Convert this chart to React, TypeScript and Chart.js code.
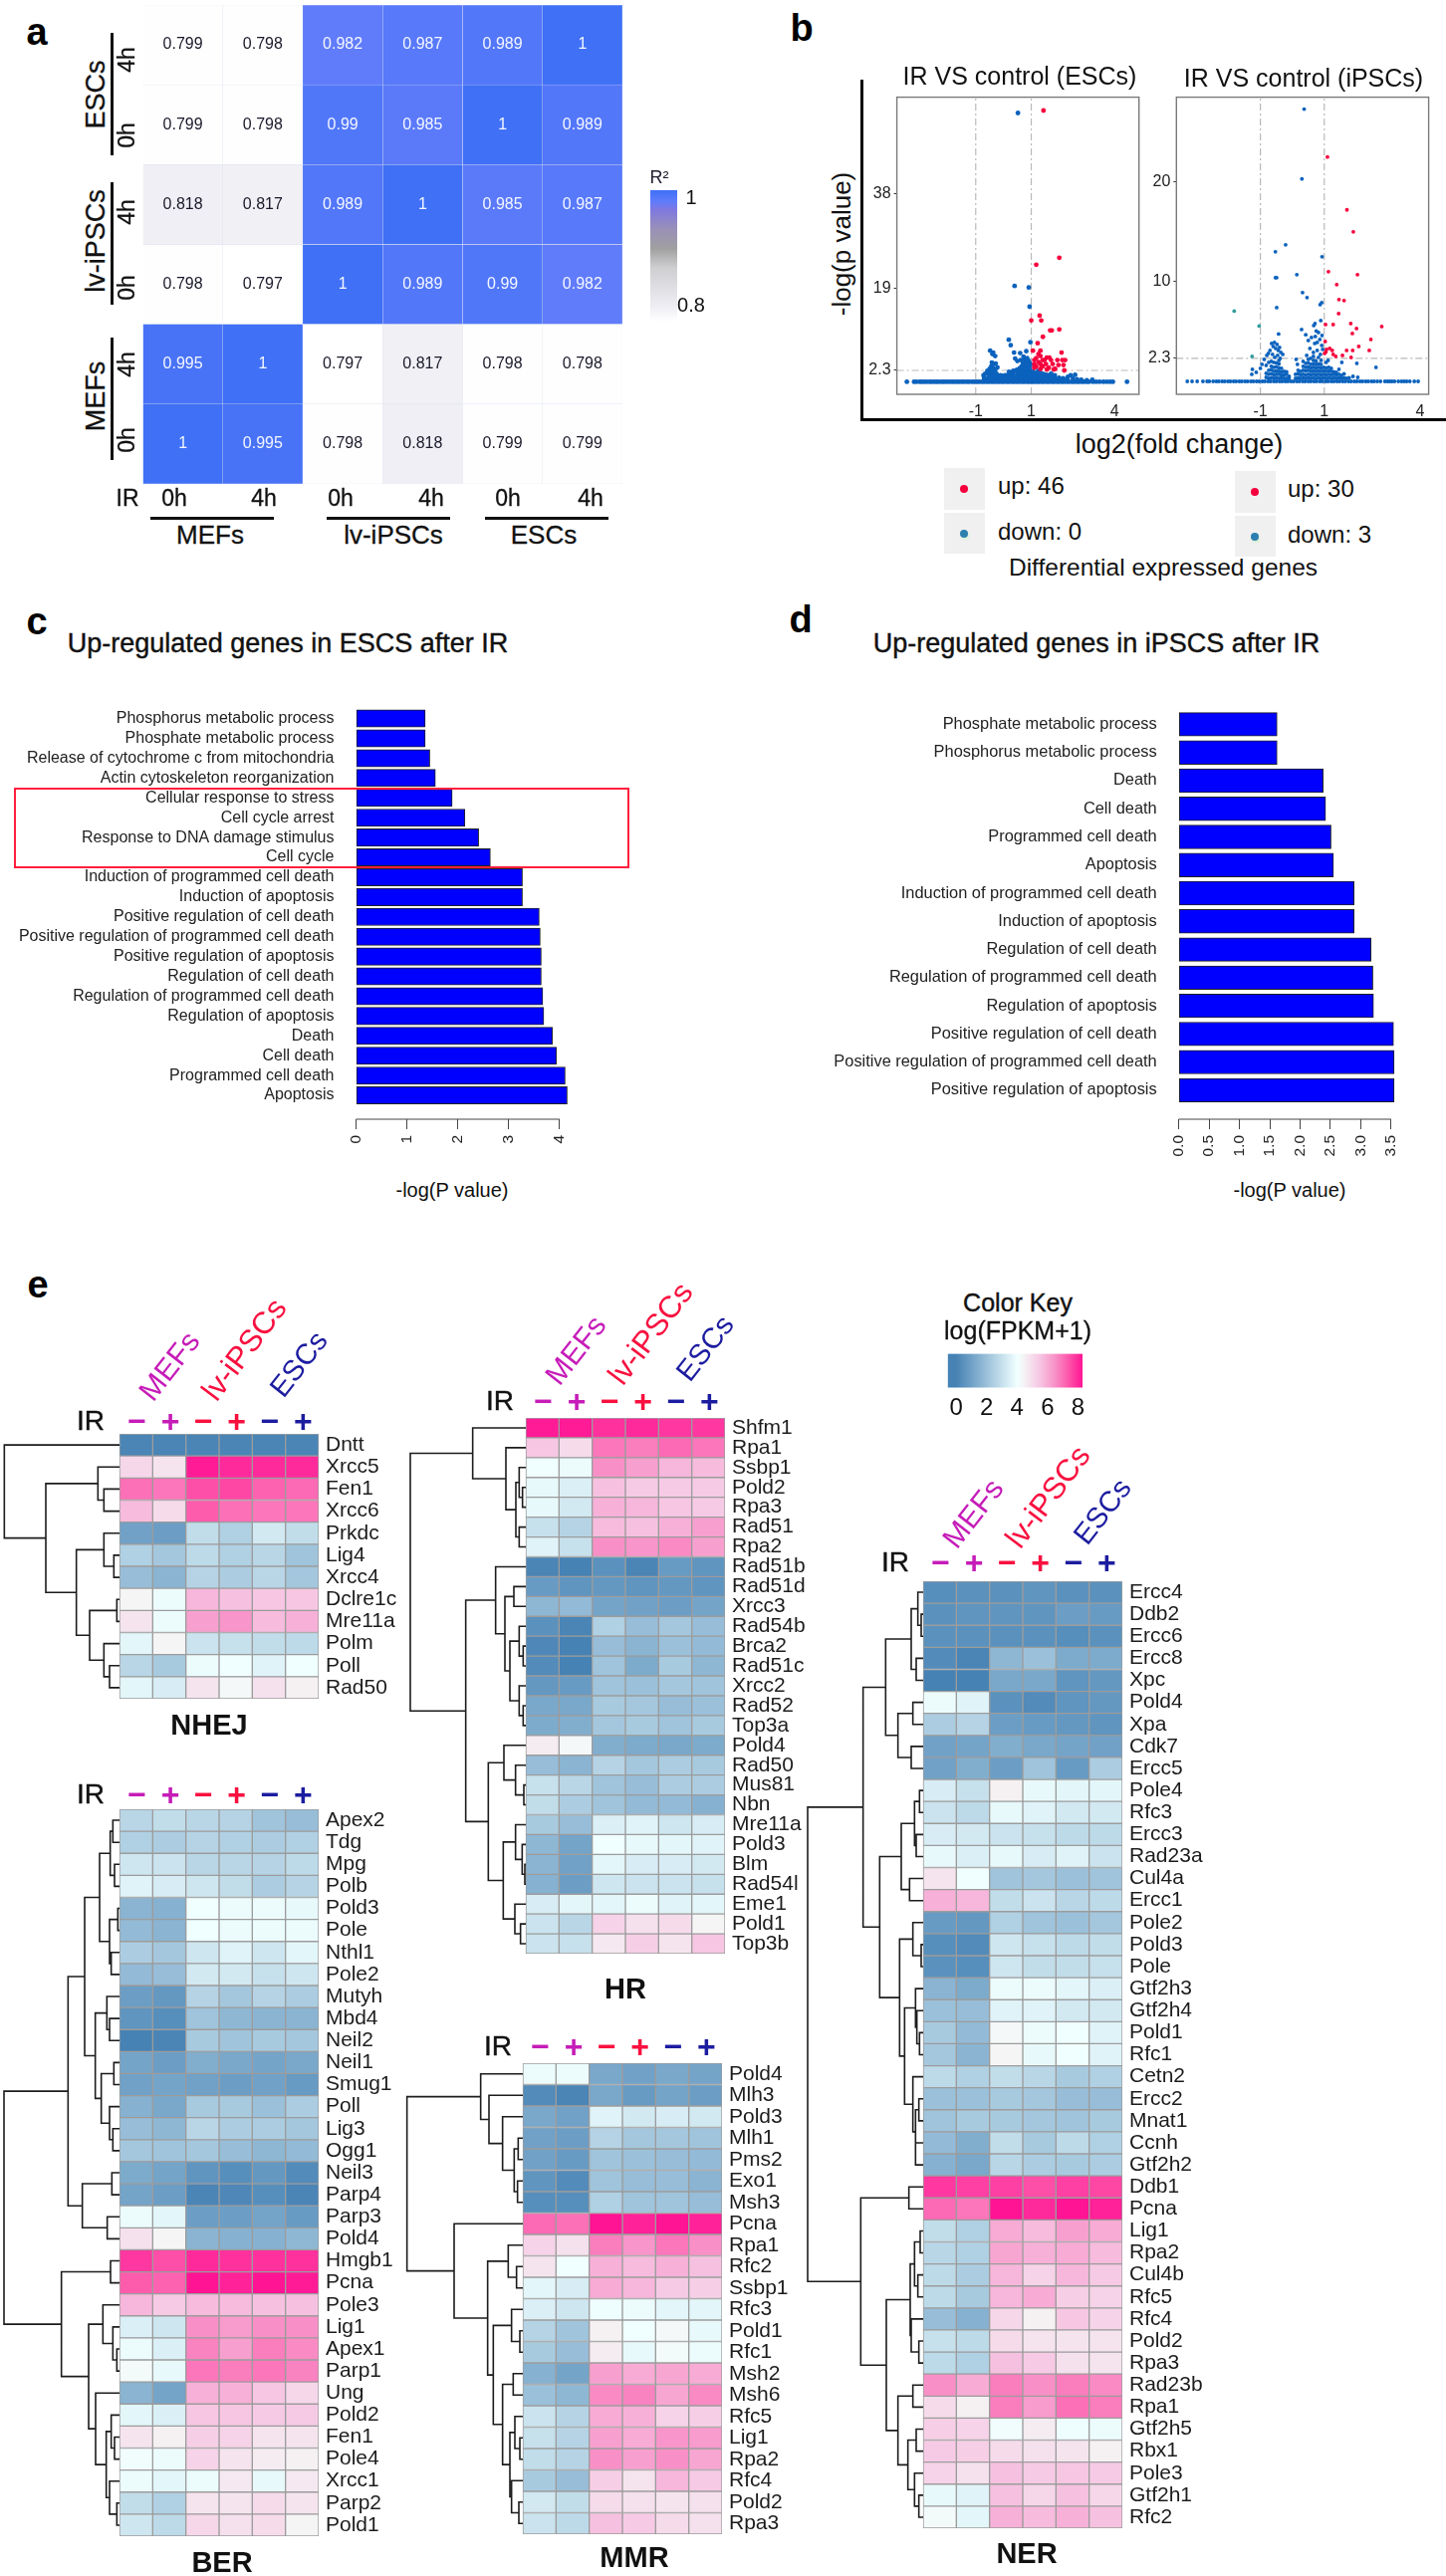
import React, { useEffect, useRef } from "react";
import { Chart, registerables } from "chart.js";
Chart.register(...registerables);
const FONT = "'Liberation Sans', Arial, sans-serif";
Chart.defaults.font.family = FONT;
Chart.defaults.color = "#222";

/* ---------- panel a ---------- */
const corrValues = [
  [0.799, 0.798, 0.982, 0.987, 0.989, 1],
  [0.799, 0.798, 0.99, 0.985, 1, 0.989],
  [0.818, 0.817, 0.989, 1, 0.985, 0.987],
  [0.798, 0.797, 1, 0.989, 0.99, 0.982],
  [0.995, 1, 0.797, 0.817, 0.798, 0.798],
  [1, 0.995, 0.798, 0.818, 0.799, 0.799],
];
const corrRows = ["ESCs 4h", "ESCs 0h", "lv-iPSCs 4h", "lv-iPSCs 0h", "MEFs 4h", "MEFs 0h"];
const corrStops: [number, string][] = [
  [0.797, "#ffffff"], [0.82, "#eeeef4"], [0.88, "#cfcfd2"], [0.91, "#a0a0a0"], [0.94, "#9a90b8"],
  [0.97, "#7f78e0"], [0.982, "#607cfb"], [1, "#3f70f6"],
];

/* ---------- panel b ---------- */
const escUp = [[1.44,54.9],[2.01,25.1],[1.18,23.7],[1.3,13.4],[1.36,12.4],[1,12.4],[2.01,10.6],[1.68,10.4],[1.74,10.4],[1.42,9.1],[1.23,7.8],[2.09,5.9],[1.33,6.3],[1.06,6.3],[1.26,5.6],[1.33,5.2],[1.18,4.8],[1.11,4.4],[1.41,4.4],[1.56,4.9],[1.65,4.9],[1.48,4.4],[1.71,4.4],[1.94,4.4],[2.12,4.4],[2.22,4.4],[1.26,4],[1.11,3.6],[1.33,3.6],[1.53,3.6],[1.77,3.6],[1.98,3.4],[2.16,3.4],[1.18,3.1],[1.41,3.1],[1.63,2.85],[1.86,2.6],[1.11,2.85],[1.33,2.6],[1.56,2.5],[1.81,2.5],[2.19,2.3]];
const escOther = [[.52,54.4],[.4,19.4],[.91,19.1],[.94,15.2],[.19,8.5],[.26,7.4],[.97,8],[-.48,6.3],[-.37,5.9],[-.3,5.2],[-.4,5.6],[.38,5.9],[.6,5.8],[.82,6.2],[.42,4.7],[.5,4.2],[.62,4.4],[.72,5.1],[.75,4.6],[.78,4.1],[.85,4.8],[.9,4.3],[.95,3.8],[.7,3.8],[.82,3.5],[.88,3.1],[.93,2.9],[.97,3.4],[-.42,3.9],[-.36,3.6],[-.28,3.7],[-.44,3.1],[-.5,2.6],[-.38,2.8],[-.3,2.4],[-.22,2.9],[-.58,2.2],[-.66,1.6],[-.72,1.3],[-.52,1.8],[-.46,1.5],[-.36,1.9],[-.26,1.5],[-.16,1.2],[.05,.8],[.12,1.3],[.2,.6],[.28,1.8],[.33,1.1],[.38,.5],[.45,2.3],[.5,1.5],[.55,.9],[.58,2.7],[.62,1.9],[.66,.7],[.7,2.4],[.73,1.4],[.77,3],[.8,2.1],[.84,1.1],[.87,2.5],[.9,1.7],[.94,.8],[.97,2.2],[1,1.3],[1.03,.6],[1.07,2],[1.1,1.1],[1.14,1.7],[1.18,.8],[1.22,1.4],[1.27,.5],[1.31,1.9],[1.36,1],[1.41,.6],[1.46,1.5],[1.5,.9],[1.56,.4],[1.6,1.2],[1.66,.7],[1.72,1.6],[1.78,.5],[1.84,.9],[1.92,.4],[2,.8],[2.1,.5],[2.2,.3],[2.32,1],[2.42,1.3],[2.5,.7],[2.58,1.4],[2.65,.5],[2.8,.4],[3,.3],[3.2,.4],[-.1,.5],[-.05,1.1],[.02,.3],[.1,.4],[.16,.9],[.24,.2],[.3,.5],[.36,.25],[.42,.8],[.48,.35],[.54,.5],[.6,.3],[.68,.5],[.74,.3],[.82,.6],[.88,.4],[.96,.3],[1.05,.25],[1.12,.4],[1.2,.3],[1.3,.25],[1.4,.3],[1.52,.2],[1.64,.3],[1.76,.25],[1.9,.2],[-.6,.5],[-.5,.7],[-.42,.4],[-.34,.9],[-.28,.5],[-.2,.7]];
const escDense = [[-.7,.7],[-.55,.8],[-.55,1.6],[-.4,.7],[-.4,1.5],[-.4,2.3],[-.25,.8],[-.25,1.6],[-.1,.7],[-.1,1.3],[.05,.7],[.05,1.3],[.2,.8],[.2,1.4],[.2,2],[.35,.7],[.35,1.5],[.35,2.2],[.5,.8],[.5,1.6],[.5,2.4],[.65,.7],[.65,1.5],[.65,2.3],[.65,3.1],[.8,.8],[.8,1.6],[.8,2.4],[.8,3.2],[.95,.7],[.95,1.5],[.95,2.3],[1.1,.8],[1.1,1.6],[1.25,.7],[1.25,1.5],[1.25,2.2],[1.4,.8],[1.4,1.6],[1.55,.7],[1.55,1.4],[1.7,.8],[1.7,1.5],[1.85,.7],[1.85,1.3],[2,.6],[2.15,.7],[2.3,.6]];
const escBaseX = [-3.48,-3.22,-3.14,-3.02,-2.94,-2.85,-2.76,-2.66,-2.58,-2.49,-2.4,-2.32,-2.22,-2.14,-2.05,-1.96,-1.86,-1.78,-1.68,-1.6,-1.5,-1.42,-1.32,-1.24,-1.14,-1.06,-.96,-.88,-.78,-.7,-.6,-.52,-.42,-.34,-.24,-.16,-.06,.02,.12,.2,.3,.38,.48,.56,.66,.74,.84,.92,1.02,1.1,1.2,1.28,1.38,1.46,1.56,1.64,1.74,1.82,1.92,2,2.1,2.18,2.28,2.36,2.46,2.54,2.64,2.72,2.82,2.9,3,3.08,3.22,3.34,3.46,3.6,3.72,3.84,3.94,4.45];
const ipscUp = [[1.1,22.5],[1.71,17.2],[1.91,15],[1.13,11],[2.04,10.7],[1.39,9.7],[1.46,8.2],[1.62,8.1],[1.45,6.8],[1.83,5.8],[1.04,5.7],[1.28,5.7],[2.01,5.3],[2.8,5.5],[1.88,4.8],[2.46,4.2],[1.03,4],[2.08,3.5],[1.07,3.2],[1.17,3.3],[1.25,3.1],[1.7,3.1],[1.89,3.1],[2.41,3.1],[1.01,2.8],[1.28,2.7],[1.57,2.6],[1.84,2.4],[1.36,2.5],[1.05,2.95]];
const ipscDown = [[-1.82,7.05],[-1.04,5.55],[-1.26,2.5]];
const ipscOther = [[.37,27.3],[.3,20.3],[-.21,13.7],[-.53,13],[.93,12.5],[.14,10.7],[-.53,10.4],[-.49,10.4],[.32,8.9],[.46,8.4],[.92,7.9],[.87,7.7],[-.49,7.4],[.89,6.1],[.71,5.8],[.67,5.6],[.29,5.2],[.75,5.05],[-.43,4.75],[.42,4.67],[-.65,3.8],[-.6,3.5],[-.56,3.9],[-.52,3.3],[-.48,3.7],[-.44,3.1],[-.4,3.4],[-.36,2.9],[-.7,3.1],[-.75,2.8],[-.8,2.6],[-.62,2.7],[-.55,2.4],[-.46,2.6],[-.38,2.3],[-.3,2.7],[-.88,2.2],[-.95,1.7],[-1,1.3],[-1.13,.9],[-1.25,1.2],[-1.27,.7],[-.82,1.6],[-.74,1.9],[-.66,2],[.55,3.3],[.57,2.3],[.66,2.9],[.7,3.8],[.78,3.1],[.86,4.2],[.88,2.7],[.92,3.6],[.5,4.1],[.6,4.4],[.72,4.5],[.82,4.9],[.78,3.9],[.93,4.6],[.95,3.2],[1.12,2.1],[2.02,1.8],[2.62,1.4],[1.55,1.9],[.12,2.2],[.16,1.7],[.45,2.6],[.34,2]];
const ipscDense = [[-.82,.4],[-.82,.8],[-.74,.3],[-.74,.7],[-.74,1.1],[-.66,.35],[-.66,.75],[-.66,1.15],[-.66,1.5],[-.58,.3],[-.58,.65],[-.58,1],[-.58,1.4],[-.58,1.9],[-.5,.35],[-.5,.7],[-.5,1.05],[-.5,1.45],[-.5,1.85],[-.42,.3],[-.42,.7],[-.42,1],[-.42,1.35],[-.42,1.75],[-.42,2.1],[-.34,.35],[-.34,.6],[-.34,.95],[-.34,1.3],[-.26,.3],[-.26,.65],[-.26,1],[-.18,.3],[-.18,.7],[-.18,.95],[-.1,.3],[-.1,.5],[.1,.3],[.1,.7],[.18,.35],[.18,.75],[.18,1.1],[.26,.3],[.26,.65],[.26,1],[.34,.35],[.34,.7],[.34,1.1],[.34,1.5],[.42,.3],[.42,.65],[.42,1.05],[.42,1.4],[.42,1.8],[.5,.35],[.5,.7],[.5,1.1],[.5,1.45],[.5,1.85],[.5,2.2],[.58,.3],[.58,.65],[.58,1],[.58,1.35],[.58,1.7],[.66,.35],[.66,.7],[.66,1.05],[.66,1.4],[.66,1.75],[.66,2.1],[.66,2.5],[.74,.3],[.74,.65],[.74,1],[.74,1.35],[.74,1.7],[.74,2.05],[.82,.35],[.82,.7],[.82,1.05],[.82,1.4],[.82,1.75],[.82,2.4],[.9,.3],[.9,.65],[.9,1],[.9,1.35],[.9,1.7],[.9,2.1],[.98,.35],[.98,.7],[.98,1.05],[.98,1.4],[1.06,.3],[1.06,.65],[1.06,1],[1.06,1.35],[1.06,1.9],[1.14,.35],[1.14,.7],[1.14,1.05],[1.14,1.4],[1.22,.3],[1.22,.65],[1.22,1],[1.22,1.3],[1.3,.35],[1.3,.7],[1.3,.95],[1.38,.3],[1.38,.65],[1.38,.9],[1.46,.35],[1.46,.7],[1.46,1.2],[1.54,.3],[1.54,.6],[1.62,.35],[1.62,.75],[1.7,.3],[1.78,.35],[1.9,.5],[2.05,.4]];
const ipscBaseX = [-3.29,-3.14,-2.98,-2.8,-2.67,-2.6,-2.48,-2.38,-2.3,-2.2,-2.12,-2.02,-1.94,-1.84,-1.76,-1.66,-1.58,-1.48,-1.4,-1.3,-1.22,-1.12,-1.04,-.94,-.86,-.76,-.68,-.58,-.5,-.4,-.32,-.22,-.14,-.04,.04,.14,.22,.32,.4,.5,.58,.68,.76,.86,.94,1.04,1.12,1.22,1.3,1.4,1.48,1.58,1.66,1.76,1.84,1.94,2.02,2.12,2.2,2.3,2.38,2.48,2.56,2.66,2.76,2.9,2.98,3.05,3.12,3.2,3.32,3.42,3.5,3.58,3.68,3.82,3.94];

/* ---------- panels c and d ---------- */
const escTerms = ["Phosphorus metabolic process","Phosphate metabolic process","Release of cytochrome c from mitochondria","Actin cytoskeleton reorganization","Cellular response to stress","Cell cycle arrest","Response to DNA damage stimulus","Cell cycle","Induction of programmed cell death","Induction of apoptosis","Positive regulation of cell death","Positive regulation of programmed cell death","Positive regulation of apoptosis","Regulation of cell death","Regulation of programmed cell death","Regulation of apoptosis","Death","Cell death","Programmed cell death","Apoptosis"];
const escPvals = [1.36,1.36,1.45,1.56,1.89,2.14,2.41,2.64,3.27,3.27,3.6,3.62,3.64,3.64,3.67,3.69,3.86,3.94,4.11,4.15];
const ipscTerms = ["Phosphate metabolic process","Phosphorus metabolic process","Death","Cell death","Programmed cell death","Apoptosis","Induction of programmed cell death","Induction of apoptosis","Regulation of cell death","Regulation of programmed cell death","Regulation of apoptosis","Positive regulation of cell death","Positive regulation of programmed cell death","Positive regulation of apoptosis"];
const ipscPvals = [1.62,1.62,2.38,2.42,2.51,2.55,2.89,2.89,3.17,3.2,3.21,3.54,3.55,3.55];

/* ---------- panel e ---------- */
const nhejGenes = ["Dntt","Xrcc5","Fen1","Xrcc6","Prkdc","Lig4","Xrcc4","Dclre1c","Mre11a","Polm","Poll","Rad50"];
const nhejValues = [[.1,.1,.1,.1,.1,.1],[5.1,4.8,8.2,8,8,8],[7,6.9,7.5,7.6,7.2,7.1],[5.7,5,7.3,7,6.9,6.9],[1,.9,2.9,2.5,3.3,2.9],[2.5,2.2,2.8,2.5,2.7,2.1],[1.9,1.6,2.6,2.4,2.7,2.2],[4.4,3.9,5.8,5.6,5.5,5.5],[4.8,3.9,6.2,6.4,5.7,5.9],[3.7,4.4,3.1,3,2.9,2.8],[2.7,2.3,3.9,4,3.6,4],[3.7,3.4,4.8,4.3,4.9,4.5]];
const nhejTree = [3.47,0,[2.22,[.65,1,[.47,2,3]],[1.3,[.47,4,[.17,5,6]],[.9,[.08,7,8],[.47,9,[.3,10,11]]]]]];

const berGenes = ["Apex2","Tdg","Mpg","Polb","Pold3","Pole","Nthl1","Pole2","Mutyh","Mbd4","Neil2","Neil1","Smug1","Poll","Lig3","Ogg1","Neil3","Parp4","Parp3","Pold4","Hmgb1","Pcna","Pole3","Lig1","Apex1","Parp1","Ung","Pold2","Fen1","Pole4","Xrcc1","Parp2","Pold1"];
const berValues = [[2.7,2.9,2.7,2.6,2.1,1.9],[2.5,2.4,2.6,2.5,2.4,2.5],[3.2,3.1,2.7,2.7,2.6,2.8],[3.6,3.4,3.2,2.9,2.4,2.6],[1.6,1.5,4,3.9,3.9,3.8],[1.8,1.6,4,3.9,3.9,3.9],[2.4,2.2,3.2,3.6,3.2,3.7],[1.8,1.9,3.3,3.3,3,3.2],[.9,.7,2.6,2.2,2.6,2.4],[.6,.4,2.1,1.7,1.6,1.6],[0,.1,2.3,2.1,2.3,2.2],[1.1,.9,1.4,1.2,1.1,1.2],[1,1.1,1,.9,1,.8],[1.5,1.2,2.3,2.3,2,2.4],[1.9,1.7,2.7,2.4,2.4,2.2],[2.2,2.1,2.2,1.9,1.7,1.8],[1.3,1.1,.6,.4,.7,.3],[1.1,.9,.1,.2,.4,.1],[3.9,3.7,.9,.9,1.1,.8],[4.9,4.4,1.6,1.5,1.5,1.7],[7.8,7.5,8,7.9,7.9,7.9],[7.3,7.2,8.3,8.1,8.3,8.2],[5.8,5.4,5.7,5.7,5.6,5.6],[3.5,3.2,6.5,6.3,6.5,6.5],[3.9,3.5,6.7,6.2,6.8,6.6],[4.2,3.8,6.9,6.8,6.9,6.7],[1.6,1.1,5.9,5.9,5.5,5.1],[3.7,3.5,5.5,5.5,5.4,5.4],[4.8,4.5,5.3,5.2,4.8,4.8],[4.1,3.9,5.2,4.8,4.6,4.5],[3.9,3.7,3.9,4.7,3.8,4.7],[2.9,2.5,4.8,4.8,5,4.8],[3.2,2.8,5.1,4.9,5,4.4]];
const berTree = [3.48,[1.55,[1.05,[.6,[.28,[.2,0,1],[.15,2,3]],[.3,[.05,4,5],[.25,6,7]]],[.73,[.38,8,[.3,9,10]],[.55,[.17,11,12],[.3,13,[.2,14,15]]]]],[1.12,[.23,16,17],[.37,18,19]]],[1.75,[.27,20,21],[.93,[.5,22,[.2,23,[.08,24,25]]],[.72,26,[.4,[.25,27,[.15,28,29]],[.3,30,[.08,31,32]]]]]]];

const hrGenes = ["Shfm1","Rpa1","Ssbp1","Pold2","Rpa3","Rad51","Rpa2","Rad51b","Rad51d","Xrcc3","Rad54b","Brca2","Rad51c","Xrcc2","Rad52","Top3a","Pold4","Rad50","Mus81","Nbn","Mre11a","Pold3","Blm","Rad54l","Eme1","Pold1","Top3b"];
const hrValues = [[8.2,8.2,7.9,8,7.8,7.8],[5.5,5,6.9,6.8,7.1,6.9],[4,3.9,6.5,6.2,5.8,5.7],[3.8,3.5,5.6,5.4,5.4,5.4],[3.8,3.3,5.9,5.8,5.5,5.4],[3,2.6,5.7,5.6,5.9,6.2],[3.6,3,6.5,6.4,6.6,6.2],[.1,0,.5,.1,.8,.6],[.8,.6,.7,.6,.7,.6],[1.7,1.8,1.1,1,.9,1.1],[.5,.1,2.5,1.9,2.2,1.9],[.2,0,1.9,1.6,2,1.8],[.3,0,2.1,1.3,2.3,1.7],[.7,.8,2.1,2,2.2,2.1],[1.2,1.2,2.3,2.2,1.9,2],[1.3,1.4,2.2,2.3,2.1,2.3],[4.6,4.3,1.4,1.3,1.2,1.3],[1.9,1.6,2.6,2.2,2.4,2.3],[3,2.7,2.1,1.9,2.4,2.4],[2.9,2.4,2.1,1.8,1.8,1.5],[2.3,1.9,3.5,3.6,3.2,3.4],[1.7,1.1,4,3.8,3.7,3.6],[1.6,1,3.7,3.4,3.4,3.3],[1.5,.9,3.2,3.1,3.1,3],[3.4,3.7,3.7,3.9,3.6,3.7],[3.1,2.7,5.2,4.9,5,4.4],[3.1,3,4.7,5.3,4.8,5.5]];
const hrTree = [3.48,[1.6,0,[.6,1,[.3,[.2,2,[.1,3,4]],[.2,5,6]]]],[1.81,[.91,7,[.63,[.36,8,9],[.48,[.2,10,[.08,11,12]],[.2,13,[.08,14,15]]]]],[1.13,[.66,16,[.31,17,[.06,18,19]]],[.68,[.31,20,[.11,21,[.03,22,23]]],[.33,24,[.16,25,26]]]]]];

const mmrGenes = ["Pold4","Mlh3","Pold3","Mlh1","Pms2","Exo1","Msh3","Pcna","Rpa1","Rfc2","Ssbp1","Rfc3","Pold1","Rfc1","Msh2","Msh6","Rfc5","Lig1","Rpa2","Rfc4","Pold2","Rpa3"];
const mmrValues = [[3.9,3.9,1.2,1,1.2,1.1],[.3,.1,1.2,.8,1.1,.9],[1.2,1,3.6,3.3,3.4,3.3],[1,.9,2.6,2.2,2.2,2.1],[1,.8,2.1,2,1.9,1.8],[.6,.3,2.1,1.9,1.9,1.6],[.4,.4,2.5,2.1,2.1,1.9],[7.1,7,8.3,8.1,8.3,8.1],[5.2,4.9,6.8,6.4,6.9,6.5],[4.8,4,5.9,5.7,5.9,5.6],[3.7,3.4,6,5.8,5.4,5.3],[3.5,3.2,3.95,3.9,3.7,3.7],[2.6,2.1,4.5,4,4.3,3.8],[2.3,1.9,4.6,3.8,4.2,3.9],[1.5,1.1,6.2,6,6.1,6],[2,1.7,6.6,6.7,6.1,6.6],[3.1,2.6,6,5.9,5.2,5.3],[3,2.6,6.2,6,6.4,6.3],[2.9,2.6,6.5,6.2,6.5,6.1],[2.3,1.9,5.3,4.8,5.8,5.4],[3.3,2.9,5,4.9,4.8,4.9],[3.1,2.8,5.6,5.4,5,4.9]];
const mmrTree = [3.49,[1.27,0,[1.02,1,[.61,2,[.26,[.14,3,4],[.16,5,6]]]]],[2.07,7,[1.06,[.44,8,[.19,9,10]],[.89,[.34,11,[.09,12,13]],[.61,[.29,14,15],[.39,[.24,16,[.09,17,18]],[.34,19,[.12,20,21]]]]]]]];

const nerGenes = ["Ercc4","Ddb2","Ercc6","Ercc8","Xpc","Pold4","Xpa","Cdk7","Ercc5","Pole4","Rfc3","Ercc3","Rad23a","Cul4a","Ercc1","Pole2","Pold3","Pole","Gtf2h3","Gtf2h4","Pold1","Rfc1","Cetn2","Ercc2","Mnat1","Ccnh","Gtf2h2","Ddb1","Pcna","Lig1","Rpa2","Cul4b","Rfc5","Rfc4","Pold2","Rpa3","Rad23b","Rpa1","Gtf2h5","Rbx1","Pole3","Gtf2h1","Rfc2"];
const nerValues = [[.4,.5,.5,.6,.5,.5],[.5,.6,.6,.6,.9,.8],[.5,.5,.5,.5,.4,.5],[.3,.1,1.7,2,1.3,1.3],[0,0,1.2,1.2,.6,.7],[3.9,3.6,.5,.3,.6,.7],[2.4,2.6,.9,.8,.7,.6],[1,1.1,1.4,1.2,1.1,1],[1,1.4,.9,2.1,.8,2.4],[3.4,3,4.5,3.8,3.7,3.7],[3.1,2.8,3.8,3.6,3.3,3.3],[3.4,3.3,3.1,3,2.8,2.8],[3.8,3.5,3.8,3.4,3.6,3.1],[4.8,4,2.1,2.2,2,2.1],[5.9,5.8,2.9,3.1,2.7,2.8],[.8,.7,2.5,2.1,2,2.2],[.4,.3,3.2,3,2.8,2.9],[.5,.4,3.2,2.9,2.9,3],[1.6,1.3,3.9,3.9,3.7,3.5],[2,1.9,3.6,3.6,3.3,3.3],[2.3,1.8,4.3,3.9,4,3.6],[2.2,1.6,4.4,3.8,4,3.6],[2.8,2.5,2.9,2.7,2.3,2.5],[2,2,2.3,2.2,1.9,1.9],[2.1,2.3,2.3,2.2,2.1,2.3],[1.8,1.4,2.9,2.3,2.8,2.5],[1.5,1.2,2.7,2.4,2.3,2.4],[7.8,7.7,7.7,7.5,7.7,7.6],[7.1,6.9,8.3,8,8.3,8.1],[2.9,2.5,6,5.7,6.2,6],[2.7,2.5,6.1,5.9,6,5.7],[2.8,2.4,5.8,5.2,5.8,5.4],[2.8,2.3,5.8,6,5.3,5.2],[1.9,1.5,5.1,4.5,5.5,5.2],[3,2.8,5,4.8,4.8,4.8],[2.8,2.5,5.6,5.4,4.9,4.8],[6.5,6,6.8,6.5,6.8,6.6],[5,4.5,6.8,6.3,7,6.8],[5.3,5.2,4.1,4.6,3.95,3.9],[5.4,5.3,5,4.9,4.8,4.5],[5.2,4.9,5.6,5.4,5.5,5.4],[3.8,3.6,5.6,5.1,5.6,5.1],[4.2,3.7,5.9,5.7,5.9,5.6]];
const nerTree = [3.48,[1.81,[1.13,[.36,[.16,0,[.06,1,2]],[.21,3,4]],[.76,[.31,5,6],[.36,7,8]]],[1.31,[.66,[.26,[.11,9,10],[.21,11,12]],[.41,13,14]],[.71,[.31,15,[.06,16,17]],[.56,[.23,18,[.19,19,[.11,20,21]]],[.31,22,[.23,[.13,23,24],[.23,25,26]]]]]]],[1.88,[.43,27,28],[1.11,[.39,[.26,[.09,29,30],[.16,31,32]],[.36,33,[.13,34,35]]],[.76,[.31,36,37],[.46,[.21,38,39],[.26,40,[.13,41,42]]]]]]];

const heatStops: [number, string][] = [[0, "#4682B4"], [4, "#F0FFFF"], [4.4, "#F5F5F5"], [5.5, "#F6C6E3"], [6.5, "#F890C7"], [7.3, "#FD5CAD"], [8.3, "#FF1493"]];
const keyTicks = [0, 2, 4, 6, 8];
const conditions = ["MEFs -", "MEFs +", "lv-iPSCs -", "lv-iPSCs +", "ESCs -", "ESCs +"];

/* ---------- helpers ---------- */
const rgb = (h: string) => [1, 3, 5].map((i) => parseInt(h.slice(i, i + 2), 16));
function ramp(stops: [number, string][], v: number) {
  if (v <= stops[0][0]) return stops[0][1];
  for (let i = 1; i < stops.length; i++) {
    if (v <= stops[i][0]) {
      const t = (v - stops[i - 1][0]) / (stops[i][0] - stops[i - 1][0]);
      const a = rgb(stops[i - 1][1]), b = rgb(stops[i][1]);
      return `rgb(${a.map((c, k) => Math.round(c + (b[k] - c) * t)).join(",")})`;
    }
  }
  return stops[stops.length - 1][1];
}
type Box = { l: number; t: number; w: number; h: number };
type Area = { l: number; t: number; r: number; b: number };
const gaps = (b: Box, a: Area) => ({ left: a.l - b.l, top: a.t - b.t, right: b.l + b.w - a.r, bottom: b.t + b.h - a.b });
const setW = (w: number) => (s: any) => { s.width = w; };
const setH = (h: number) => (s: any) => { s.height = h; };

function ChartBox({ box, make }: { box: Box; make: () => any }) {
  const ref = useRef<HTMLCanvasElement>(null);
  useEffect(() => {
    const c = new Chart(ref.current as any, make());
    return () => c.destroy();
  }, []);
  return <canvas ref={ref} width={box.w} height={box.h} style={{ position: "absolute", left: box.l, top: box.t, width: box.w, height: box.h }} />;
}
/* the gaps named in `axes` are filled by a scale of exactly that size instead of by padding */
const baseOpts = (box: Box, area: Area, axes: string[] = []) => {
  const p: any = gaps(box, area);
  axes.forEach((k) => { p[k] = 0; });
  return {
    responsive: false, animation: false as const, devicePixelRatio: 1,
    layout: { padding: p },
    plugins: { legend: { display: false }, tooltip: { enabled: false } },
  };
};

function corrConfig(box: Box, area: Area) {
  return {
    type: "bar",
    data: {
      labels: corrRows,
      datasets: [0, 1, 2, 3, 4, 5].map((c) => ({
        data: corrRows.map(() => [c, c + 1]),
        backgroundColor: corrValues.map((r) => ramp(corrStops, r[c])),
        borderColor: "rgba(215,220,235,0.75)", borderWidth: 0.5, barPercentage: 1, categoryPercentage: 1, grouped: false,
      })),
    },
    options: {
      ...baseOpts(box, area), indexAxis: "y",
      scales: { x: { display: false, min: 0, max: 6 }, y: { display: false } },
    },
    plugins: [{
      id: "cellText",
      afterDatasetsDraw(ch: any) {
        const { ctx, scales } = ch;
        ctx.save();
        ctx.font = `16px ${FONT}`; ctx.textAlign = "center"; ctx.textBaseline = "middle";
        corrValues.forEach((row, r) => row.forEach((v, c) => {
          ctx.fillStyle = v > 0.9 ? "#f4f6ff" : "#1a1a2a";
          ctx.fillText(String(v), scales.x.getPixelForValue(c + 0.5), scales.y.getPixelForTick(r));
        }));
        ctx.restore();
      },
    }],
  };
}
function gradientBar(horizontal: boolean, stops: [number, string][], lo: number, hi: number) {
  return (c: any) => {
    const a = c.chart.chartArea;
    if (!a) return stops[0][1];
    const g = horizontal ? c.chart.ctx.createLinearGradient(a.left, 0, a.right, 0) : c.chart.ctx.createLinearGradient(0, a.bottom, 0, a.top);
    stops.forEach(([v, col]) => g.addColorStop(Math.max(0, Math.min(1, (v - lo) / (hi - lo))), col));
    return g;
  };
}
function corrBarConfig(box: Box, area: Area) {
  return {
    type: "bar",
    data: { labels: ["R²"], datasets: [{ data: [[0.797, 1]], backgroundColor: gradientBar(false, corrStops, 0.797, 1), barPercentage: 1, categoryPercentage: 1, borderWidth: 0 }] },
    options: { ...baseOpts(box, area), scales: { x: { display: false }, y: { display: false, min: 0.797, max: 1 } } },
  };
}
function keyConfig(box: Box, area: Area) {
  const g = gaps(box, area);
  return {
    type: "bar",
    data: { labels: ["log(FPKM+1)"], datasets: [{ data: [[-0.55, 8.3]], backgroundColor: gradientBar(true, heatStops, -0.55, 8.3), barPercentage: 1, categoryPercentage: 1, borderWidth: 0 }] },
    options: {
      ...baseOpts(box, area, ["bottom"]), indexAxis: "y",
      scales: {
        y: { display: false },
        x: {
          min: -0.55, max: 8.3, afterFit: setH(g.bottom), border: { display: false }, grid: { display: false, drawTicks: false },
          afterBuildTicks: (s: any) => { s.ticks = keyTicks.map((value) => ({ value })); },
          ticks: { font: { size: 24 }, color: "#111", padding: 6, maxRotation: 0, autoSkip: false },
        },
      },
    },
  };
}
function volcanoConfig(box: Box, area: Area, xr: number[], yr: number[], yticks: number[], up: number[][], down: number[][], other: number[][], base: number[], r: number) {
  const g = gaps(box, area);
  const pts = (a: number[][]) => a.map(([x, y]) => ({ x, y }));
  const guide = (d: { x: number; y: number }[]) => ({ type: "scatter", data: d, showLine: true, pointRadius: 0, borderColor: "#b9b9b9", borderWidth: 1.2, borderDash: [7, 3, 2, 3], order: 5 });
  return {
    type: "scatter",
    data: {
      datasets: [
        guide([{ x: -1, y: yr[0] }, { x: -1, y: yr[1] }]),
        guide([{ x: 1, y: yr[0] }, { x: 1, y: yr[1] }]),
        guide([{ x: xr[0], y: 2.3 }, { x: xr[1], y: 2.3 }]),
        { data: base.map((x) => ({ x, y: 0 })), backgroundColor: "#0b62bd", pointRadius: r, borderWidth: 0, order: 3 },
        { data: pts(other), backgroundColor: "#0b62bd", pointRadius: r, borderWidth: 0, order: 2 },
        { data: pts(down), backgroundColor: "#2f9c9c", pointRadius: r, borderWidth: 0, order: 1 },
        { data: pts(up), backgroundColor: "#f5003c", pointRadius: r, borderWidth: 0, order: 1 },
      ],
    },
    options: {
      ...baseOpts(box, area, ["left", "bottom"]),
      scales: {
        x: {
          type: "linear", min: xr[0], max: xr[1], afterFit: setH(g.bottom), border: { display: false }, grid: { display: false, drawTicks: false },
          afterBuildTicks: (s: any) => { s.ticks = [-1, 1, 4].map((value) => ({ value })); },
          ticks: { font: { size: 16 }, color: "#222", padding: 8, maxRotation: 0, autoSkip: false },
        },
        y: {
          min: yr[0], max: yr[1], afterFit: setW(g.left), border: { display: false },
          grid: { drawOnChartArea: false, drawTicks: true, tickLength: 3, color: "#333" },
          afterBuildTicks: (s: any) => { s.ticks = yticks.map((value) => ({ value })); },
          ticks: { font: { size: 16 }, color: "#222", padding: 3, autoSkip: false },
        },
      },
    },
    plugins: [{
      id: "frame",
      afterDatasetsDraw(ch: any) {
        const { ctx, chartArea: a } = ch;
        ctx.save(); ctx.strokeStyle = "#7a7a7a"; ctx.lineWidth = 1.4;
        ctx.strokeRect(a.left, a.top, a.right - a.left, a.bottom - a.top);
        ctx.restore();
      },
    }],
  };
}
function termsConfig(box: Box, area: Area, terms: string[], vals: number[], xMax: number, xTicks: number[], yMax: number, thick: number, fmt: (v: number) => string, size: number) {
  const g = gaps(box, area);
  return {
    type: "bar",
    data: { datasets: [{ data: vals.map((x, y) => ({ x, y })), backgroundColor: "#0000ff", borderColor: "#222", borderWidth: 1, borderSkipped: false, barThickness: thick }] },
    options: {
      ...baseOpts(box, area, ["left", "bottom"]), indexAxis: "y",
      scales: {
        x: {
          type: "linear", min: 0, max: xMax, afterFit: setH(g.bottom), border: { display: false },
          grid: { drawOnChartArea: false, drawTicks: true, tickLength: 10, color: "#444", lineWidth: 1 },
          afterBuildTicks: (s: any) => { s.ticks = xTicks.map((value) => ({ value })); },
          ticks: { font: { size: 15.5 }, color: "#222", padding: 6, minRotation: 90, maxRotation: 90, autoSkip: false, callback: (v: any) => fmt(Number(v)) },
        },
        y: {
          type: "linear", reverse: true, offset: false, min: -0.5, max: yMax, afterFit: setW(g.left), border: { display: false }, grid: { display: false, drawTicks: false },
          afterBuildTicks: (s: any) => { s.ticks = terms.map((_, value) => ({ value })); },
          ticks: { font: { size }, color: "#222", padding: 22, autoSkip: false, callback: (v: any) => terms[v] },
        },
      },
    },
    plugins: [{
      id: "rAxis",
      afterDraw(ch: any) {
        const { ctx, chartArea: a, scales } = ch;
        ctx.save(); ctx.strokeStyle = "#444"; ctx.lineWidth = 1;
        ctx.beginPath();
        ctx.moveTo(scales.x.getPixelForValue(xTicks[0]), a.bottom);
        ctx.lineTo(scales.x.getPixelForValue(xTicks[xTicks.length - 1]), a.bottom);
        ctx.stroke(); ctx.restore();
      },
    }],
  };
}
function heatConfig(box: Box, area: Area, genes: string[], values: number[][], tree: any, depth: number) {
  const g = gaps(box, area);
  return {
    type: "bar",
    data: {
      labels: genes,
      datasets: conditions.map((_, c) => ({
        label: conditions[c],
        data: genes.map(() => [c, c + 1]),
        backgroundColor: values.map((r) => ramp(heatStops, r[c])),
        borderColor: "#9c9c9c", borderWidth: 1, borderSkipped: false, barPercentage: 1, categoryPercentage: 1, grouped: false,
      })),
    },
    options: {
      ...baseOpts(box, area, ["right"]), indexAxis: "y",
      scales: {
        x: { display: false, min: -depth, max: 6 },
        y: {
          position: "right", afterFit: setW(g.right), border: { display: false }, grid: { display: false, drawTicks: false },
          ticks: { font: { size: 21 }, color: "#1c1c1c", padding: 7, autoSkip: false },
        },
      },
    },
    plugins: [{
      id: "dendrogram",
      afterDatasetsDraw(ch: any) {
        const { ctx, scales } = ch;
        const X = (h: number) => scales.x.getPixelForValue(-h);
        const walk = (n: any): { x: number; y: number } => {
          if (typeof n === "number") return { x: X(0), y: scales.y.getPixelForTick(n) };
          const a = walk(n[1]), b = walk(n[2]), x = X(n[0]);
          ctx.moveTo(a.x, a.y); ctx.lineTo(x, a.y); ctx.lineTo(x, b.y); ctx.lineTo(b.x, b.y);
          return { x, y: (a.y + b.y) / 2 };
        };
        ctx.save(); ctx.strokeStyle = "#1c1c1c"; ctx.lineWidth = 1.6; ctx.beginPath();
        walk(tree); ctx.stroke(); ctx.restore();
      },
    }],
  };
}

/* ---------- page text ---------- */
function T({ x, y, t, s = 16, c = "#111", r = 0, w = 400, st = 0 }: any) {
  return <div style={{ position: "absolute", left: x, top: y, transform: `translate(-50%,-50%) rotate(${r}deg)`, fontFamily: FONT, fontSize: s, color: c, fontWeight: w, whiteSpace: "nowrap", lineHeight: 1, WebkitTextStroke: st ? `${st}px ${c}` : undefined }}>{t}</div>;
}
function Rect({ l, t, w, h, bg, style }: any) {
  return <div style={{ position: "absolute", left: l, top: t, width: w, height: h, background: bg, ...style }} />;
}
const MAG = "#c61cb8", RED = "#f8103f", NAVY = "#1c1ca0";
function Signs({ l, y, irX }: any) {
  const cw = 200 / 6;
  const cols = [MAG, MAG, RED, RED, NAVY, NAVY];
  return <>
    <T x={irX} y={y} t="IR" s={28} st={0.4} />
    {cols.map((c, i) => <T key={i} x={l + cw * (i + 0.5) + 1} y={y} t={i % 2 ? "+" : "−"} s={32} c={c} w={700} />)}
  </>;
}
function Groups({ l, t }: any) {
  return <>
    <T x={l + 50} y={t - 68} t="MEFs" s={30} c={MAG} r={-52} />
    <T x={l + 125} y={t - 85} t="lv-iPSCs" s={31} c={RED} r={-53} />
    <T x={l + 180} y={t - 70} t="ESCs" s={29} c={NAVY} r={-52} />
  </>;
}

const heatmaps = [
  { name: "NHEJ", genes: nhejGenes, values: nhejValues, tree: nhejTree, l: 120, t: 1440, b: 1706, dep: 3.55, nx: 210, ny: 1732, sign: 1427, ir: 91, groups: true },
  { name: "BER", genes: berGenes, values: berValues, tree: berTree, l: 120, t: 1817, b: 2547, dep: 3.55, nx: 223, ny: 2573, sign: 1802, ir: 91, groups: false },
  { name: "HR", genes: hrGenes, values: hrValues, tree: hrTree, l: 528, t: 1424, b: 1962, dep: 3.55, nx: 628, ny: 1997, sign: 1407, ir: 502, groups: true },
  { name: "MMR", genes: mmrGenes, values: mmrValues, tree: mmrTree, l: 525, t: 2072, b: 2545, dep: 3.55, nx: 637, ny: 2568, sign: 2055, ir: 500, groups: false },
  { name: "NER", genes: nerGenes, values: nerValues, tree: nerTree, l: 927, t: 1588, b: 2539, dep: 3.55, nx: 1031, ny: 2564, sign: 1569, ir: 899, groups: true },
];

export default function App() {
  const cBox = { l: 0, t: 680, w: 700, h: 490 }, cArea = { l: 357.5, t: 711, r: 577.2, b: 1124 };
  const dBox = { l: 800, t: 680, w: 652, h: 490 }, dArea = { l: 1183.7, t: 713.3, r: 1406, b: 1124 };
  const aBox = { l: 130, t: 0, w: 510, h: 495 }, aArea = { l: 143.5, t: 5, r: 625, b: 486 };
  const rBox = { l: 645, t: 185, w: 45, h: 145 }, rArea = { l: 653, t: 191, r: 680, b: 323 };
  const kBox = { l: 935, t: 1340, w: 170, h: 90 }, kArea = { l: 951.7, t: 1359.6, r: 1087, b: 1393.6 };
  const v1Box = { l: 868, t: 70, w: 285, h: 355 }, v1Area = { l: 900.6, t: 97.6, r: 1143.7, b: 396 };
  const v2Box = { l: 1150, t: 70, w: 295, h: 355 }, v2Area = { l: 1181.3, t: 97.6, r: 1434.6, b: 396 };
  return (
    <div style={{ position: "absolute", left: 0, top: 0, width: 1452, height: 2587, overflow: "hidden", background: "#fff" }}>
      <ChartBox box={aBox} make={() => corrConfig(aBox, aArea)} />
      <ChartBox box={rBox} make={() => corrBarConfig(rBox, rArea)} />
      <ChartBox box={v1Box} make={() => volcanoConfig(v1Box, v1Area, [-3.84, 4.88], [-2.54, 57.6], [2.3, 19, 38], escUp, [], [...escOther, ...escDense], escBaseX, 2.4)} />
      <ChartBox box={v2Box} make={() => volcanoConfig(v2Box, v2Area, [-3.63, 4.27], [-1.3, 28.5], [2.3, 10, 20], ipscUp, ipscDown, [...ipscOther, ...ipscDense], ipscBaseX, 1.9)} />
      <ChartBox box={cBox} make={() => termsConfig(cBox, cArea, escTerms, escPvals, 4.3, [0, 1, 2, 3, 4], 20.2, 17.4, (v) => String(v), 16)} />
      <ChartBox box={dBox} make={() => termsConfig(dBox, dArea, ipscTerms, ipscPvals, 3.65, [0, 0.5, 1, 1.5, 2, 2.5, 3, 3.5], 14.03, 23.7, (v) => v.toFixed(1), 16.4)} />
      {heatmaps.map((h) => {
        const bl = Math.max(0, h.l - 125);
        const box = { l: bl, t: h.t - 20, w: h.l + 300 - bl, h: h.b - h.t + 40 };
        const area = { l: h.l - h.dep * (200 / 6), t: h.t, r: h.l + 200, b: h.b };
        return <ChartBox key={h.name} box={box} make={() => heatConfig(box, area, h.genes, h.values, h.tree, h.dep)} />;
      })}
      <ChartBox box={kBox} make={() => keyConfig(kBox, kArea)} />

      {/* panel letters */}
      <T x={37} y={32} t="a" s={38} w={700} c="#000" />
      <T x={805} y={28} t="b" s={38} w={700} c="#000" />
      <T x={37} y={624} t="c" s={38} w={700} c="#000" />
      <T x={804} y={622} t="d" s={38} w={700} c="#000" />
      <T x={38} y={1290} t="e" s={38} w={700} c="#000" />

      {/* panel a labels */}
      <T x={96} y={95} t="ESCs" s={27} r={-90} st={0.3} />
      <T x={96} y={242} t="lv-iPSCs" s={27} r={-90} st={0.3} />
      <T x={96} y={398} t="MEFs" s={27} r={-90} st={0.3} />
      {[[60, "4h"], [136, "0h"], [212.5, "4h"], [288.6, "0h"], [366, "4h"], [442, "0h"]].map(([y, t], i) => <T key={i} x={127} y={y} t={t} s={23} r={-90} st={0.3} />)}
      {[[112, 33, 156], [112, 183, 306], [112, 339, 462]].map(([x, a, b], i) => <Rect key={i} l={x - 1} t={a} w={2.5} h={b - a - 0} bg="#111" />)}
      <T x={128} y={500} t="IR" s={23} st={0.3} />
      {[[175, "0h"], [265, "4h"], [342, "0h"], [433, "4h"], [510, "0h"], [593, "4h"]].map(([x, t], i) => <T key={i} x={x} y={500} t={t} s={23} st={0.3} />)}
      {[[151, 275], [328, 452], [487, 611]].map(([a, b], i) => <Rect key={i} l={a} t={519} w={b - a} h={2.5} bg="#111" />)}
      <T x={211} y={537} t="MEFs" s={26} st={0.3} />
      <T x={395} y={537} t="lv-iPSCs" s={26} st={0.3} />
      <T x={546} y={537} t="ESCs" s={26} st={0.3} />
      <T x={662} y={178} t="R²" s={18} c="#223" />
      <T x={694} y={198} t="1" s={20} />
      <T x={694} y={306} t="0.8" s={20} />

      {/* panel b labels */}
      <T x={1024} y={76} t="IR VS control (ESCs)" s={25} />
      <T x={1309} y={78} t="IR VS control (iPSCs)" s={25} />
      <Rect l={863.5} t={80} w={3} h={342} bg="#000" />
      <Rect l={863.5} t={420} w={589} h={3} bg="#000" />
      <T x={845} y={245} t="-log(p value)" s={26} r={-90} />
      <T x={1184} y={446} t="log2(fold change)" s={27} />
      <Rect l={948} t={470} w={41} h={42} bg="#f0f0f0" />
      <Rect l={948} t={515} w={41} h={41} bg="#f0f0f0" />
      <Rect l={1239.5} t={473} w={41} h={42} bg="#f0f0f0" />
      <Rect l={1239.5} t={518} w={41} h={41} bg="#f0f0f0" />
      <Rect l={964} t={487} w={8} h={8} bg="#f5003c" style={{ borderRadius: 4 }} />
      <Rect l={964} t={532} w={8} h={8} bg="#2d7fb0" style={{ borderRadius: 4, boxShadow: "1px 2px 2px #d8f0d8" }} />
      <Rect l={1256} t={490} w={8} h={8} bg="#f5003c" style={{ borderRadius: 4 }} />
      <Rect l={1256} t={535} w={8} h={8} bg="#2d7fb0" style={{ borderRadius: 4, boxShadow: "1px 2px 2px #d8f0d8" }} />
      {[[1002, 488, "up: 46"], [1002, 534, "down: 0"], [1293, 491, "up: 30"], [1293, 537, "down: 3"]].map(([x, y, t], i) => (
        <div key={i} style={{ position: "absolute", left: x as number, top: (y as number) - 12, fontFamily: FONT, fontSize: 24, lineHeight: 1, color: "#111", whiteSpace: "nowrap" }}>{t}</div>
      ))}
      <T x={1168} y={570} t="Differential expressed genes" s={24.5} />

      {/* panels c, d labels */}
      <T x={289} y={646} t="Up-regulated genes in ESCS after IR" s={27} st={0.4} />
      <T x={1101} y={646} t="Up-regulated genes in iPSCS after IR" s={27} st={0.4} />
      <T x={454} y={1195} t="-log(P value)" s={20} />
      <T x={1295} y={1195} t="-log(P value)" s={20} />
      <div style={{ position: "absolute", left: 14, top: 791, width: 614, height: 77, border: "2px solid #ff1f3d" }} />

      {/* panel e labels */}
      {heatmaps.map((h) => (
        <React.Fragment key={h.name}>
          <Signs l={h.l} y={h.sign} irX={h.ir} />
          {h.groups ? <Groups l={h.l} t={h.t} /> : null}
          <T x={h.nx} y={h.ny} t={h.name} s={29} w={700} />
        </React.Fragment>
      ))}
      <T x={1022} y={1308} t="Color Key" s={25} st={0.4} />
      <T x={1022} y={1336} t="log(FPKM+1)" s={25} st={0.3} />
    </div>
  );
}
